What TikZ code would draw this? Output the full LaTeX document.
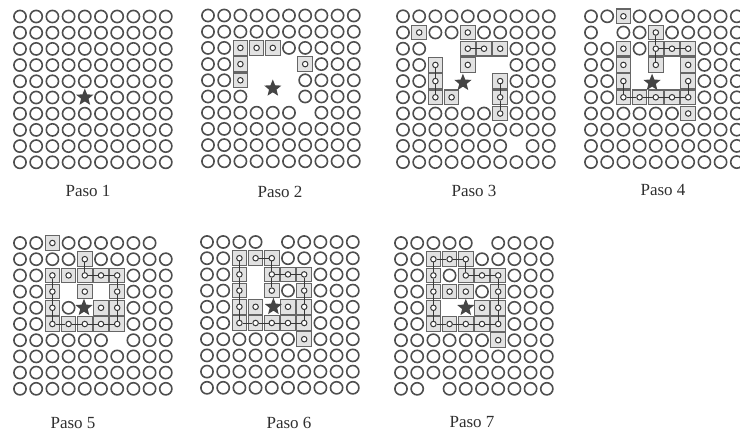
\documentclass[tikz,border=0pt]{standalone}
\usepackage{fontspec}
\setmainfont{Liberation Serif}
\usetikzlibrary{shapes.geometric}
\definecolor{ringc}{HTML}{4E4E4E}
\definecolor{sqc}{HTML}{666666}
\definecolor{sqfill}{HTML}{E2E2E2}
\definecolor{mkc}{HTML}{363636}
\definecolor{starc}{HTML}{444444}
\definecolor{labc}{HTML}{303030}
\tikzset{
  ring/.style={draw=ringc, line width=1.6pt},
  sqr/.style={draw=sqc, line width=1.1pt, fill=sqfill},
  mk/.style={circle, draw=mkc, line width=1pt, fill=white, minimum size=5.5pt, inner sep=0pt},
  link/.style={draw=mkc, line width=1pt},
  starmark/.style={star, star points=5, star point ratio=2.3, fill=starc, draw=none, minimum size=18pt, inner sep=0pt},
  lab/.style={font=\fontsize{17}{19}\selectfont, text=labc, inner sep=0pt},
}
\newcommand{\drawpanel}[8]{%
  \begin{scope}[shift={(#2,#3)}]
    \foreach \c in {0,...,9}{\foreach \r in {0,...,9}{\draw[ring] ({\c*16.2},{\r*16.2}) circle[radius=6.1pt];}}
    \foreach \c/\r in {#4}{\fill[white] ({\c*16.2-8.1},{\r*16.2-8.1}) rectangle ++(16.2,16.2);}
    \foreach \c/\r in {#5}{\draw[sqr] ({\c*16.2-7.3},{\r*16.2-7.3}) rectangle ++(14.6,14.6);}
    \foreach \c/\r in {#5}{\node[mk] (#1-\c-\r) at ({\c*16.2},{\r*16.2}) {};}
    \foreach \a/\b in {#8}{\draw[link] (#1-\a) -- (#1-\b);}
    \node[starmark] (#1-star) at ({#6*16.2},{#7*16.2}) {};
  \end{scope}}
\begin{document}
\begin{tikzpicture}[x=1pt,y=-1pt]
\useasboundingbox (0,0) rectangle (740,432);
\fill[white] (0,0) rectangle (740,432);
% Paso 1
\drawpanel{p1}{20}{16.5}{4/5}{}{4}{5}{}
% Paso 2
\drawpanel{p2}{208}{15.5}{3/3,4/3,5/3,3/4,4/4,5/4,3/5,4/5,5/5,6/6}{2/2,3/2,4/2,2/3,6/3,2/4}{4}{4.5}{}
% Paso 3
\drawpanel{p3}{403}{16.3}{2/2,3/2,3/3,5/3,6/3,3/4,4/4,5/4,4/5,5/5,7/8}{1/1,4/1,4/2,5/2,6/2,2/3,4/3,2/4,6/4,2/5,3/5,6/5,6/6}{3.7}{4.1}{4-2/5-2,2-3/2-4,2-4/2-5,6-4/6-5,6-5/6-6}
% Paso 4
\drawpanel{p4}{591}{16.3}{1/1,3/3,5/3,3/4,4/4,5/4}{2/0,4/1,2/2,4/2,5/2,6/2,2/3,4/3,6/3,2/4,6/4,2/5,3/5,4/5,5/5,6/5,6/6}{3.77}{4.1}{4-1/4-2,4-2/4-3,4-2/5-2,5-2/6-2,2-4/2-5,2-5/3-5,3-5/4-5,4-5/5-5,5-5/6-5,6-4/6-5}
% Paso 5
\drawpanel{p5}{20}{243}{9/0,3/3,5/3,4/4,6/6}{2/0,4/1,2/2,3/2,4/2,5/2,6/2,2/3,4/3,6/3,2/4,5/4,6/4,2/5,3/5,4/5,5/5,6/5}{3.95}{4}{4-1/4-2,4-2/5-2,5-2/6-2,2-2/2-3,2-3/2-4,2-4/2-5,6-2/6-3,6-3/6-4,6-4/6-5,2-5/3-5,3-5/4-5,4-5/5-5,5-5/6-5}
% Paso 6
\drawpanel{p6}{207}{242}{4/0,3/2,3/3,4/4}{2/1,3/1,4/1,2/2,4/2,5/2,6/2,2/3,4/3,6/3,2/4,3/4,5/4,6/4,2/5,3/5,4/5,5/5,6/5,6/6}{4.1}{4}{3-1/4-1,4-1/4-2,4-2/4-3,4-2/5-2,5-2/6-2,2-1/2-2,2-2/2-3,2-3/2-4,2-4/2-5,6-2/6-3,6-3/6-4,6-4/6-5,2-5/3-5,3-5/4-5,4-5/5-5,5-5/6-5}
% Paso 7
\drawpanel{p7}{401}{243}{5/0,3/4,4/4,2/9}{2/1,3/1,4/1,2/2,4/2,5/2,6/2,2/3,3/3,4/3,6/3,2/4,5/4,6/4,2/5,3/5,4/5,5/5,6/5,6/6}{4}{4}{2-1/3-1,3-1/4-1,4-1/4-2,4-2/5-2,5-2/6-2,2-1/2-2,2-2/2-3,2-3/2-4,2-4/2-5,6-2/6-3,6-3/6-4,6-4/6-5,2-5/3-5,3-5/4-5,4-5/5-5,5-5/6-5}
% labels
\node[lab] (l1) at (88,191) {Paso 1};
\node[lab] (l2) at (280,192) {Paso 2};
\node[lab] (l3) at (474,191) {Paso 3};
\node[lab] (l4) at (663,190) {Paso 4};
\node[lab] (l5) at (73,423) {Paso 5};
\node[lab] (l6) at (289,423) {Paso 6};
\node[lab] (l7) at (472,422) {Paso 7};
\end{tikzpicture}
\end{document}
